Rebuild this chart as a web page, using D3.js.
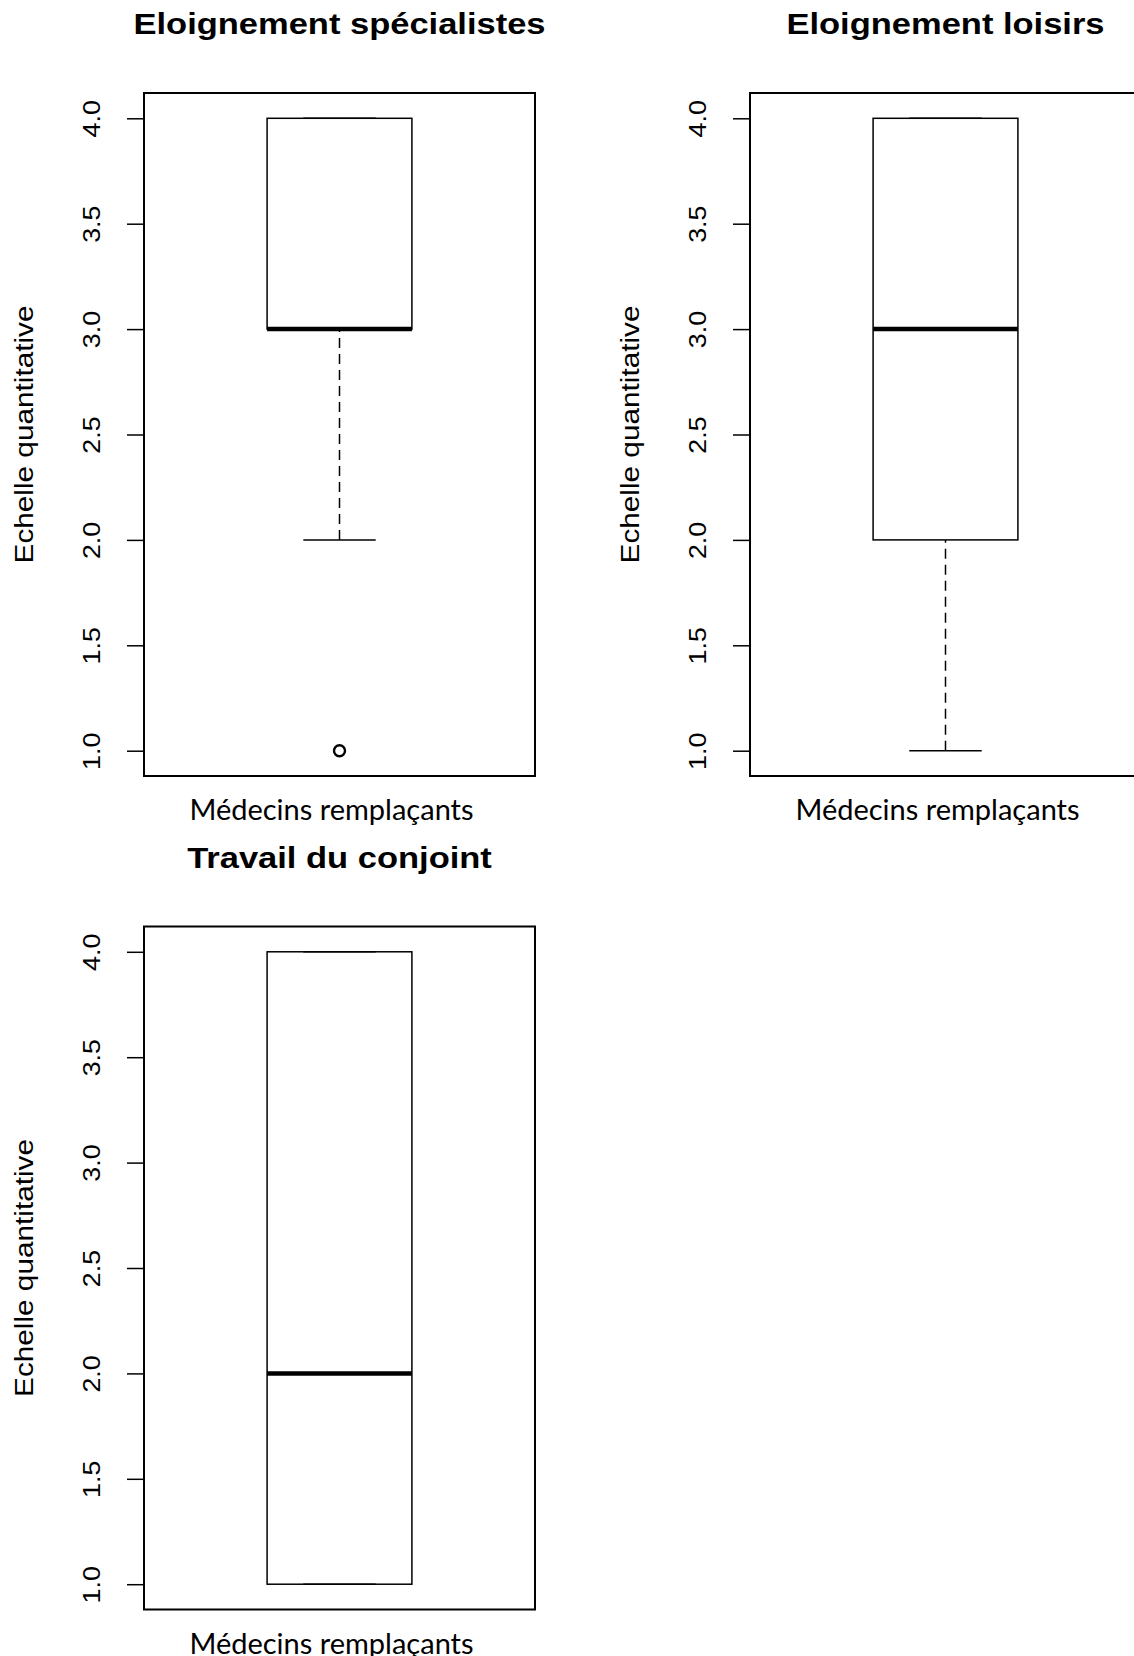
<!DOCTYPE html>
<html>
<head>
<meta charset="utf-8">
<script src="https://cdn.jsdelivr.net/npm/d3@7"></script>
<style>
  body { margin: 0; background: #fff; }
  svg { display: block; }
</style>
</head>
<body>
<script>
// data
var titles = ["Eloignement spécialistes", "Eloignement loisirs", "Travail du conjoint"];
var groupName = "Médecins remplaçants";
var yLabel = "Echelle quantitative";
// [lower whisker, q1, median, q3, upper whisker]
var statsSpecialistes = [2, 3, 3, 4, 4];
var statsLoisirs = [1, 2, 3, 4, 4];
var statsConjoint = [1, 1, 2, 4, 4];
var outliersSpecialistes = [1];
var outliersLoisirs = [];
var outliersConjoint = [];
var yTicks = [1.0, 1.5, 2.0, 2.5, 3.0, 3.5, 4.0];

var panels = [
  {title: titles[0], stats: statsSpecialistes, out: outliersSpecialistes, col: 0, row: 0},
  {title: titles[1], stats: statsLoisirs, out: outliersLoisirs, col: 1, row: 0},
  {title: titles[2], stats: statsConjoint, out: outliersConjoint, col: 0, row: 1}
];

var W = 1134, H = 1656;
var frameW = 391, frameH = 683;
var colX = [144, 750], rowY = [93, 926.5];

var svg = d3.select("body").append("svg")
    .attr("width", W)
    .attr("height", H);

// R style: 4% padding around data range
var y = d3.scaleLinear().domain([0.88, 4.12]).range([frameH, 0]);
var x = d3.scaleLinear().domain([0.46, 1.54]).range([0, frameW]);
var boxWex = 0.4;

panels.forEach(function(p) {
  var g = svg.append("g")
      .attr("transform", "translate(" + colX[p.col] + "," + rowY[p.row] + ")");

  var s = p.stats;
  var x0 = x(1 - boxWex / 2), x1 = x(1 + boxWex / 2);
  var c0 = x(1 - boxWex / 4), c1 = x(1 + boxWex / 4);

  // whiskers (dashed)
  [[s[0], s[1]], [s[3], s[4]]].forEach(function(w) {
    if (w[0] == w[1]) return;
    g.append("line")
        .attr("x1", x(1)).attr("x2", x(1))
        .attr("y1", y(w[0])).attr("y2", y(w[1]))
        .attr("stroke", "#000")
        .attr("stroke-width", 1.5)
        .attr("stroke-dasharray", "10,6");
  });

  // box
  g.append("rect")
      .attr("x", x0)
      .attr("y", y(s[3]))
      .attr("width", x1 - x0)
      .attr("height", y(s[1]) - y(s[3]))
      .attr("fill", "none")
      .attr("stroke", "#000")
      .attr("stroke-width", 1.5);

  // staples
  [s[0], s[4]].forEach(function(v) {
    g.append("line")
        .attr("x1", c0).attr("x2", c1)
        .attr("y1", y(v)).attr("y2", y(v))
        .attr("stroke", "#000")
        .attr("stroke-width", 1.5);
  });

  // median
  g.append("line")
      .attr("x1", x0).attr("x2", x1)
      .attr("y1", y(s[2])).attr("y2", y(s[2]))
      .attr("stroke", "#000")
      .attr("stroke-width", 4.5);

  // outliers
  g.selectAll("circle.out")
      .data(p.out)
      .enter().append("circle")
      .attr("class", "out")
      .attr("cx", x(1))
      .attr("cy", function(d) { return y(d); })
      .attr("r", 5.5)
      .attr("fill", "none")
      .attr("stroke", "#000")
      .attr("stroke-width", 2.4);

  // frame
  g.append("rect")
      .attr("width", frameW)
      .attr("height", frameH)
      .attr("fill", "none")
      .attr("stroke", "#000")
      .attr("stroke-width", 2);

  // y axis, labels rotated like R
  var ax = g.append("g")
      .call(d3.axisLeft(y).tickValues(yTicks).tickSize(17).tickFormat(d3.format(".1f")));
  ax.select(".domain").remove();
  ax.selectAll("line").attr("stroke", "#000").attr("stroke-width", 1.5);
  ax.selectAll("text")
      .attr("x", 0)
      .attr("dy", 0)
      .attr("fill", "#000")
      .style("font-family", "'Liberation Sans', Arial, sans-serif")
      .style("font-size", "24px")
      .style("text-anchor", "middle")
      .attr("transform", "translate(-44,0) rotate(-90) scale(1.12,1)");

  // y label
  g.append("text")
      .attr("transform", "translate(-110.7," + (frameH / 2) + ") rotate(-90) scale(1.19,1)")
      .style("text-anchor", "middle")
      .style("font-family", "'Liberation Sans', Arial, sans-serif")
      .style("font-size", "25px")
      .text(yLabel);

  // title
  g.append("text")
      .attr("transform", "translate(" + (frameW / 2) + "," + (34.3 - rowY[0]) + ") scale(1.15,1)")
      .style("text-anchor", "middle")
      .style("font-family", "'Liberation Sans', Arial, sans-serif")
      .style("font-weight", "bold")
      .style("font-size", "30px")
      .text(p.title);

  // group name under the box
  g.append("text")
      .attr("x", x(1) - 8)
      .attr("y", frameH + 44)
      .style("text-anchor", "middle")
      .style("font-family", "Lato, 'Open Sans', sans-serif")
      .style("font-size", "29px")
      .text(groupName);
});
</script>
</body>
</html>
